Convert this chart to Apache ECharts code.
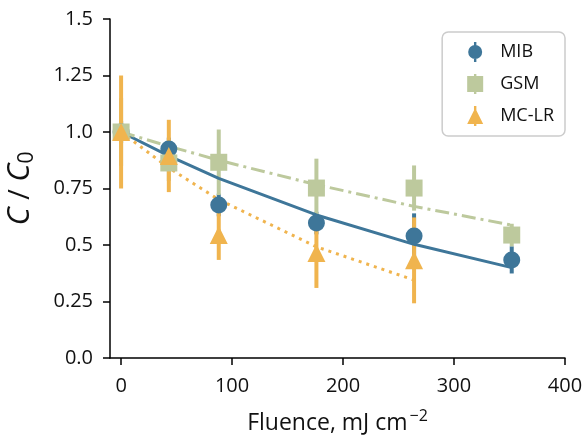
<!DOCTYPE html>
<html>
<head>
<meta charset="utf-8">
<script src="https://cdn.jsdelivr.net/npm/echarts@6/dist/echarts.min.js"></script>
<style>
  html, body { margin: 0; padding: 0; background: #fff; }
  #chart { width: 588px; height: 436px; }
</style>
</head>
<body>
<div id="chart"></div>
<script>
// Fluence doses (mJ cm^-2)
const fluence = [0, 43, 88, 176, 264, 352];
const fluenceMCLR = [0, 43, 88, 176, 264];

// Measured C/C0 (mean) and error (half-width)
const mibMean = [1.0, 0.925, 0.677, 0.597, 0.54, 0.434];
const mibErr  = [0.05, 0.05, 0.05, 0.05, 0.1, 0.06];
const gsmMean = [1.0, 0.863, 0.866, 0.752, 0.752, 0.544];
const gsmErr  = [0.15, 0.08, 0.145, 0.13, 0.1, 0.05];
const mclrMean = [1.0, 0.894, 0.544, 0.465, 0.432];
const mclrErr  = [0.25, 0.16, 0.11, 0.155, 0.19];

// First-order fit curves evaluated at the dose points
const mibFit  = [1.0, 0.894, 0.795, 0.633, 0.503, 0.40];
const gsmFit  = [1.0, 0.937, 0.875, 0.767, 0.671, 0.588];
const mclrFit = [1.0, 0.841, 0.701, 0.492, 0.345];

// Axis ticks
const xTicks = [0, 100, 200, 300, 400];
const yTicks = [0, 0.25, 0.5, 0.75, 1.0, 1.25, 1.5];

const BLUE = '#3e7699';
const GREEN = '#bdc99d';
const ORANGE = '#f0b44e';
const FONT = 'Open Sans';
const INK = '#111';

const pairs = (xs, ys) => xs.map((x, i) => [x, ys[i]]);
const bars = (xs, m, e) => xs.map((x, i) => [x, m[i] - e[i], m[i] + e[i]]);

function errorBarSeries(name, xs, m, e, color) {
  return {
    name: name,
    type: 'custom',
    z: 1,
    silent: true,
    data: bars(xs, m, e),
    renderItem: function (params, api) {
      const lo = api.coord([api.value(0), api.value(1)]);
      const hi = api.coord([api.value(0), api.value(2)]);
      return {
        type: 'line',
        shape: { x1: lo[0], y1: lo[1], x2: hi[0], y2: hi[1] },
        style: { stroke: color, lineWidth: 4 }
      };
    }
  };
}

function fitSeries(xs, ys, color, dash) {
  return {
    type: 'line',
    z: 2,
    silent: true,
    symbol: 'none',
    data: pairs(xs, ys),
    lineStyle: { color: color, width: 3, type: dash, cap: 'butt' }
  };
}

function markerSeries(name, xs, ys, color, symbol, size, z) {
  return {
    name: name,
    type: 'scatter',
    z: z,
    data: pairs(xs, ys),
    symbol: symbol,
    symbolSize: size,
    itemStyle: { color: color, opacity: 1 }
  };
}

// Legend glyphs: marker with a short vertical error stub
const iconCircle = 'path://M6.8,0h2.4v20h-2.4z M1,10a7,7 0 1,1 14,0a7,7 0 1,1 -14,0z';
const iconSquare = 'path://M6.8,0h2.4v20h-2.4z M0,2h16v16h-16z';
const iconTri = 'path://M6.8,0h2.4v20h-2.4z M8,2l8,16h-16z';

const chart = echarts.init(document.getElementById('chart'), null, { renderer: 'canvas' });

chart.setOption({
  animation: false,
  backgroundColor: '#ffffff',
  textStyle: { fontFamily: FONT },
  grid: { left: 110, right: 23, top: 19, bottom: 78, containLabel: false, outerBoundsMode: 'none' },
  legend: {
    orient: 'vertical',
    right: 23,
    top: 32,
    padding: [10, 11, 10, 25],
    itemWidth: 16,
    itemHeight: 20,
    itemGap: 12,
    borderColor: '#cccccc',
    borderWidth: 1.5,
    borderRadius: 6,
    backgroundColor: '#ffffff',
    textStyle: { fontFamily: FONT, fontSize: 18, color: INK, padding: [0, 0, 0, 12] },
    data: [
      { name: 'MIB', icon: iconCircle, itemStyle: { color: BLUE } },
      { name: 'GSM', icon: iconSquare, itemStyle: { color: GREEN } },
      { name: 'MC-LR', icon: iconTri, itemStyle: { color: ORANGE } }
    ]
  },
  xAxis: {
    type: 'value',
    min: -10,
    max: 400,
    name: 'Fluence, mJ cm{sup|\u22122}',
    nameLocation: 'middle',
    nameGap: 50,
    nameTextStyle: {
      fontFamily: FONT, fontSize: 23, color: INK,
      rich: { sup: { fontFamily: FONT, fontSize: 16, color: INK, padding: [0, 0, 14, 2] } }
    },
    splitLine: { show: false },
    axisLine: { show: true, onZero: false, lineStyle: { color: '#000', width: 1.5 } },
    axisTick: { show: true, length: 7, customValues: xTicks, lineStyle: { color: '#000', width: 1.5 } },
    axisLabel: { customValues: xTicks, fontFamily: FONT, fontSize: 20, color: INK, margin: 18 }
  },
  yAxis: {
    type: 'value',
    min: 0,
    max: 1.5,
    interval: 0.25,
    name: '{i|C} / {i|C}{sub|0}',
    nameLocation: 'middle',
    nameRotate: 90,
    nameGap: 72,
    nameTextStyle: {
      fontFamily: FONT, fontSize: 29, color: INK,
      rich: {
        i: { fontFamily: FONT, fontSize: 31, fontStyle: 'italic', color: INK },
        sub: { fontFamily: FONT, fontSize: 21, color: INK, padding: [14, 0, 0, 0] }
      }
    },
    splitLine: { show: false },
    axisLine: { show: true, onZero: false, lineStyle: { color: '#000', width: 1.5 } },
    axisTick: { show: true, length: 7, lineStyle: { color: '#000', width: 1.5 } },
    axisLabel: {
      fontFamily: FONT, fontSize: 20, color: INK, margin: 17,
      customValues: yTicks,
      formatter: v => (Number.isInteger(v * 2) ? v.toFixed(1) : v.toFixed(2))
    }
  },
  series: [
    errorBarSeries('MIB', fluence, mibMean, mibErr, BLUE),
    errorBarSeries('GSM', fluence, gsmMean, gsmErr, GREEN),
    errorBarSeries('MC-LR', fluenceMCLR, mclrMean, mclrErr, ORANGE),
    fitSeries(fluence, mibFit, BLUE, 'solid'),
    fitSeries(fluence, gsmFit, GREEN, [14, 5, 3, 5]),
    fitSeries(fluenceMCLR, mclrFit, ORANGE, [3, 5]),
    markerSeries('MIB', fluence, mibMean, BLUE, 'circle', 17, 3),
    markerSeries('GSM', fluence, gsmMean, GREEN, 'rect', 17, 4),
    markerSeries('MC-LR', fluenceMCLR, mclrMean, ORANGE, 'triangle', 18, 5)
  ]
});
</script>
</body>
</html>
